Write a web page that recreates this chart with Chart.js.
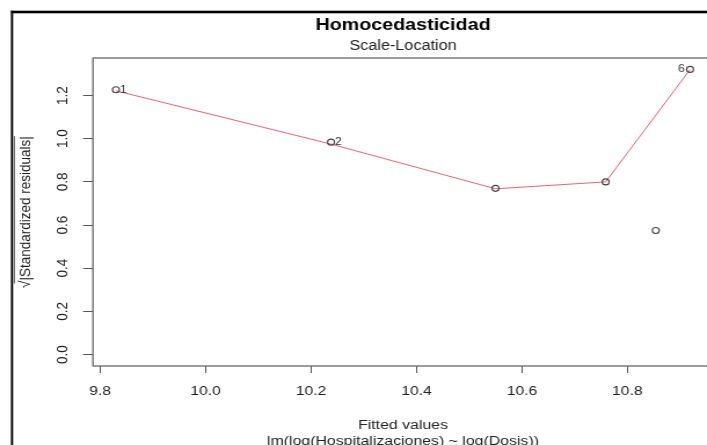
<!DOCTYPE html>
<html>
<head>
<meta charset="utf-8">
<script src="https://cdn.jsdelivr.net/npm/chart.js@4/dist/chart.umd.min.js"></script>
<style>
  html, body { margin: 0; padding: 0; background: #fff; overflow: hidden; width: 707px; height: 445px; }
  #stage { position: absolute; left: 0; top: 0; width: 650px; height: 470px;
           transform: scaleX(1.159); transform-origin: 0 0; }
  canvas { display: block; }
</style>
</head>
<body>
<div id="stage"><canvas id="chart" width="650" height="470" style="width:650px;height:470px"></canvas></div>
<script>
// Scale-Location diagnostic of lm(log(Hospitalizaciones) ~ log(Dosis))
const obsIds        = ['1', '2', '3', '4', '5', '6'];
const fittedValues  = [9.830, 10.238, 10.550, 10.759, 10.854, 10.919];
const sqrtStdResid  = [1.227, 0.984, 0.770, 0.800, 0.575, 1.321];
const labelledObs   = ['1', '2', '6'];

// lowess smoother through the residuals
const smoothX = [9.830, 10.238, 10.550, 10.759, 10.919];
const smoothY = [1.222, 0.975, 0.768, 0.800, 1.320];

const xTicks      = [9.8, 10.0, 10.2, 10.4, 10.6, 10.8];
const xTickLabels = ['9.8', '10.0', '10.2', '10.4', '10.6', '10.8'];
const yTicks      = [0, 0.2, 0.4, 0.6, 0.8, 1.0, 1.2];
const yTickLabels = ['0.0', '0.2', '0.4', '0.6', '0.8', '1.0', '1.2'];

const mainTitle = 'Homocedasticidad';
const subTitle  = 'Scale-Location';
const xTitle    = 'Fitted values';
const modelCall = 'lm(log(Hospitalizaciones) ~ log(Dosis))';
const yTitle    = '√|Standardized residuals|';

const FONT = "'Liberation Sans', Arial, Helvetica, sans-serif";

// R-style axis limits: data range widened by 4% on each side (y starts at 0)
function rLimits(lo, hi) { const d = (hi - lo) * 0.04; return [lo - d, hi + d]; }
const xLim = rLimits(Math.min(...fittedValues), Math.max(...fittedValues));
const yLim = rLimits(0, Math.max(...sqrtStdResid));

const framePlugin = {
  id: 'rFrame',
  beforeDraw(chart) {
    const ctx = chart.ctx;
    ctx.save();
    ctx.fillStyle = '#fff';
    ctx.fillRect(0, 0, chart.width, chart.height);
    // outer device frame
    ctx.fillStyle = '#000';
    ctx.fillRect(9.4, 10.7, 1.9, chart.height);
    ctx.fillRect(9.4, 10.7, chart.width, 2.6);
    ctx.restore();
  },
  afterDraw(chart) {
    const { ctx, chartArea: a, scales } = chart;
    ctx.save();
    // plot box
    ctx.strokeStyle = '#666';
    ctx.lineWidth = 1.3;
    ctx.strokeRect(a.left, a.top, a.right - a.left, a.bottom - a.top);

    // id labels: right of points in the left half, left of points in the right half
    const xMid = (xLim[0] + xLim[1]) / 2;
    ctx.font = `10.5px ${FONT}`;
    ctx.fillStyle = '#333';
    ctx.textBaseline = 'middle';
    obsIds.forEach((id, i) => {
      if (!labelledObs.includes(id)) return;
      const px = scales.x.getPixelForValue(fittedValues[i]);
      const py = scales.y.getPixelForValue(sqrtStdResid[i]);
      if (fittedValues[i] > xMid) {
        ctx.textAlign = 'right';
        ctx.fillText(id, px - 4.5, py);
      } else {
        ctx.textAlign = 'left';
        ctx.fillText(id, px + 3.5, py);
      }
    });

    // radical bar over the y axis title
    const ys = scales.y;
    ctx.font = `13.5px ${FONT}`;
    const w = ctx.measureText(yTitle).width;
    const ws = ctx.measureText('√').width;
    const cy = (ys.top + ys.bottom) / 2;
    const tx = ys.left + 13.5 * 1.2 / 2 + 14.3;
    ctx.strokeStyle = '#555';
    ctx.lineWidth = 0.9;
    ctx.beginPath();
    ctx.moveTo(tx - 10.0, cy + w / 2 - ws * 0.6);
    ctx.lineTo(tx - 10.0, cy - w / 2);
    ctx.stroke();
    ctx.restore();
  }
};

new Chart(document.getElementById('chart'), {
  type: 'scatter',
  data: {
    datasets: [
      {
        label: 'smooth',
        data: smoothX.map((x, i) => ({ x, y: smoothY[i] })),
        showLine: true,
        borderColor: '#ec6472',
        borderWidth: 1,
        pointRadius: 0,
        fill: false,
        order: 2
      },
      {
        label: 'residuals',
        data: fittedValues.map((x, i) => ({ x, y: sqrtStdResid[i] })),
        pointStyle: 'circle',
        pointRadius: 3,
        borderWidth: 1.1,
        borderColor: '#444',
        backgroundColor: 'rgba(0,0,0,0)',
        order: 1
      }
    ]
  },
  options: {
    responsive: false,
    animation: false,
    devicePixelRatio: 1,
    layout: { padding: { left: 0, right: 34.8, top: 0, bottom: 0 } },
    plugins: {
      legend: { display: false },
      tooltip: { enabled: false },
      title: {
        display: true, text: mainTitle, fullSize: false, color: '#000',
        font: { family: FONT, size: 17, weight: 'bold', lineHeight: 1.2 },
        padding: { top: 15, bottom: 2.2 }
      },
      subtitle: {
        display: true, text: subTitle, fullSize: false, color: '#222',
        font: { family: FONT, size: 14, lineHeight: 1.2 },
        padding: { top: 0, bottom: 3.6 }
      }
    },
    scales: {
      x: {
        type: 'linear', position: 'bottom', min: xLim[0], max: xLim[1],
        afterBuildTicks: ax => { ax.ticks = xTicks.map(v => ({ value: v })); },
        afterFit: ax => { ax.height = 104; },
        ticks: {
          autoSkip: false, maxRotation: 0, minRotation: 0,
          callback: v => xTickLabels[xTicks.indexOf(v)],
          font: { family: FONT, size: 13.5 }, color: '#222', padding: 10.6
        },
        grid: { drawOnChartArea: false, drawTicks: true, tickLength: 7, color: '#555', lineWidth: 1 },
        border: { display: false },
        title: {
          display: true, text: [xTitle, modelCall], color: '#222',
          font: { family: FONT, size: 13.7, lineHeight: 1.2 },
          padding: { top: 0, bottom: 20.1 }
        }
      },
      y: {
        type: 'linear', position: 'left', min: yLim[0], max: yLim[1],
        afterBuildTicks: ax => { ax.ticks = yTicks.map(v => ({ value: v })); },
        afterFit: ax => { ax.width = 80.2; },
        ticks: {
          autoSkip: false, minRotation: 90, maxRotation: 90, crossAlign: 'center',
          callback: v => yTickLabels[yTicks.indexOf(v)],
          font: { family: FONT, size: 13.5 }, color: '#222', padding: 8.1
        },
        grid: { drawOnChartArea: false, drawTicks: true, tickLength: 8.5, color: '#555', lineWidth: 1 },
        border: { display: false },
        title: {
          display: true, text: yTitle, color: '#222',
          font: { family: FONT, size: 13.5, lineHeight: 1.2 },
          padding: { top: 14.3, bottom: 0 }
        }
      }
    }
  },
  plugins: [framePlugin]
});
</script>
</body>
</html>
